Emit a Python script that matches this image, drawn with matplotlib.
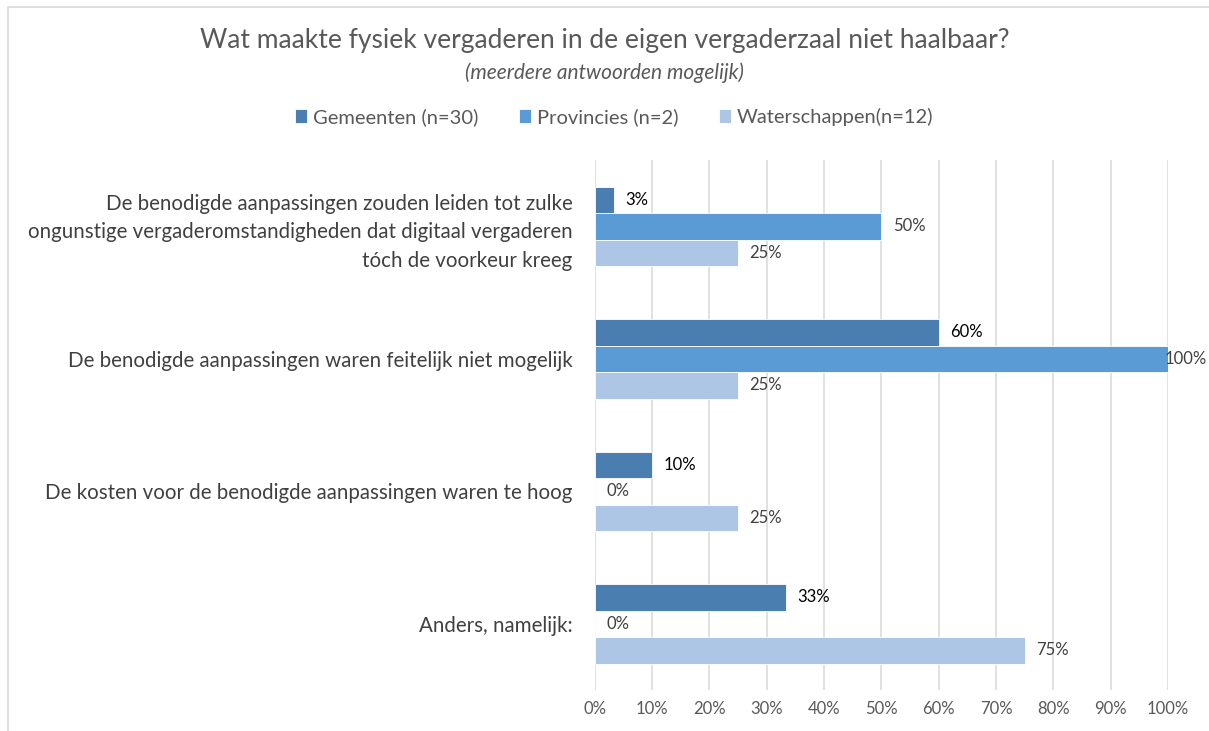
import numpy as np
import matplotlib.pyplot as plt
from matplotlib.patches import Rectangle

plt.rcParams['font.family'] = ['Lato', 'DejaVu Sans']

# data
categories = [
    "De benodigde aanpassingen zouden leiden tot zulke\nongunstige vergaderomstandigheden dat digitaal vergaderen\ntóch de voorkeur kreeg",
    "De benodigde aanpassingen waren feitelijk niet mogelijk",
    "De kosten voor de benodigde aanpassingen waren te hoog",
    "Anders, namelijk:",
]
series_names = ["Gemeenten (n=30)", "Provincies (n=2)", "Waterschappen(n=12)"]
gemeenten = [3.3, 60.0, 10.0, 33.3]
provincies = [50.0, 100.0, 0.0, 0.0]
waterschappen = [25.0, 25.0, 25.0, 75.0]
ticks = [0, 10, 20, 30, 40, 50, 60, 70, 80, 90, 100]

colors = ["#4A7DB0", "#5B9BD5", "#ADC6E6"]
label_colors = ["#000000", "#404040", "#404040"]

fig = plt.figure(figsize=(12.09, 7.31), dpi=100)
ax = fig.add_axes([0.492, 0.056, 0.474, 0.725])

# chart border like the Excel frame
fig.patches.append(Rectangle((0.007, -0.01), 1.02, 1.0, transform=fig.transFigure,
                             fill=False, edgecolor="#D9D9D9", linewidth=1.2))

y = np.arange(len(categories))
h = 0.2
all_series = [gemeenten, provincies, waterschappen]
for i, (vals, name) in enumerate(zip(all_series, series_names)):
    pos = y + (i - 1) * h
    ax.barh(pos, vals, height=h, color=colors[i], label=name, zorder=3,
            edgecolor="white", linewidth=0.6)
    for p, v in zip(pos, vals):
        x = v + 2.0
        if v >= 100:
            x = v - 0.6
        ax.text(x, p, f"{v:.0f}%", va="center", ha="left", fontsize=12,
                color=label_colors[i], zorder=4)

ax.set_xlim(0, 100)
ax.set_ylim(len(categories) - 0.5, -0.5)
ax.set_xticks(ticks)
ax.set_xticklabels([f"{t}%" for t in ticks], fontsize=12, color="#595959")
ax.set_yticks(y)
ax.set_yticklabels(categories, fontsize=14.8, color="#404040", linespacing=1.52)
ax.tick_params(axis="both", length=0)
ax.tick_params(axis="x", pad=8)
ax.tick_params(axis="y", pad=16)
ax.grid(axis="x", color="#D9D9D9", linewidth=1.1, zorder=0)
for s in ax.spines.values():
    s.set_visible(False)

fig.text(0.5, 0.944, "Wat maakte fysiek vergaderen in de eigen vergaderzaal niet haalbaar?",
         ha="center", va="center", fontsize=19, color="#595959")
fig.text(0.5, 0.900, "(meerdere antwoorden mogelijk)", ha="center", va="center",
         fontsize=15, style="italic", color="#595959")

fig.legend(loc="center", bbox_to_anchor=(0.508, 0.84), ncol=3, frameon=False,
           fontsize=14.5, handlelength=0.6, handleheight=0.7, handletextpad=0.3,
           columnspacing=2.0, labelcolor="#595959")

fig.savefig("out.png", dpi=100)
